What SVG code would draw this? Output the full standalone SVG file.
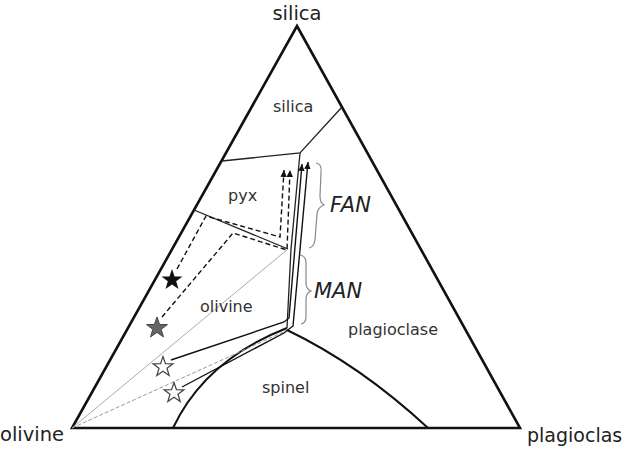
<svg xmlns="http://www.w3.org/2000/svg" width="629" height="454" viewBox="0 0 629 454">
<style>
.lbl{font-family:"DejaVu Sans","Liberation Sans",sans-serif;fill:#222}
.fld{font-family:"DejaVu Sans","Liberation Sans",sans-serif;fill:#333;font-size:16px}
.big{font-family:"DejaVu Sans","Liberation Sans",sans-serif;font-style:italic;fill:#222;font-size:21px}
.bd{fill:none;stroke:#222;stroke-width:1.3}
.pth{fill:none;stroke:#111;stroke-width:1.4}
.dsh{fill:none;stroke:#111;stroke-width:1.4;stroke-dasharray:5,3}
.br{fill:none;stroke:#888;stroke-width:1.2}
</style>
<defs>
<path id="star" d="M0,-11 L2.59,-3.56 L10.46,-3.40 L4.18,1.36 L6.47,8.90 L0,4.4 L-6.47,8.90 L-4.18,1.36 L-10.46,-3.40 L-2.59,-3.56 Z"/>
<marker id="ah" markerWidth="8" markerHeight="8" refX="7" refY="4" orient="auto" markerUnits="userSpaceOnUse">
<path d="M0,0.8 L7,4 L0,7.2 Z" fill="#111"/>
</marker>
</defs>
<rect width="629" height="454" fill="#fff"/>

<g id="triangle">
<path d="M297,26 L72,428 L520,428 Z" fill="none" stroke="#111" stroke-width="2.6" stroke-linejoin="miter"/>
<text class="lbl" x="297" y="20" font-size="19.5" text-anchor="middle">silica</text>
<text class="lbl" x="0" y="441" font-size="19.5">olivine</text>
<text class="lbl" x="527" y="442" font-size="19">plagioclas</text>
</g>

<g id="boundaries">
<path class="bd" d="M342,107 L300,153 L222,161"/>
<path class="bd" d="M194,210 L288,249"/>
<path class="bd" d="M300,153 L291,249 L287,328"/>
<path d="M173,428 Q205,360 287,328" fill="none" stroke="#111" stroke-width="2"/>
<path d="M287,330 Q360,365 428,428" fill="none" stroke="#111" stroke-width="2"/>
<path d="M72,428 L288,249" fill="none" stroke="#aaa" stroke-width="1"/>
<path d="M72,428 L288,330" fill="none" stroke="#999" stroke-width="1" stroke-dasharray="4,2"/>
</g>

<g id="fields">
<text class="fld" x="273" y="112">silica</text>
<text class="fld" x="228" y="201">pyx</text>
<text class="fld" x="200" y="312">olivine</text>
<text class="fld" x="348" y="335">plagioclase</text>
<text class="fld" x="262" y="393">spinel</text>
</g>

<g id="connectors">
<path class="dsh" d="M177,269 L206,216 L280,237 L284,170" marker-end="url(#ah)"/>
<path class="dsh" d="M162,317 L233,233 L287,250 L290,170" marker-end="url(#ah)"/>
<path class="pth" d="M171,360 L284,322 L289,318 L302,164" marker-end="url(#ah)"/>
<path class="pth" d="M182,387 L284,333 L293,326 L308,162" marker-end="url(#ah)"/>
</g>

<g id="stars">
<use href="#star" transform="translate(172,280)" fill="#111"/>
<use href="#star" transform="translate(157,328)" fill="#666" stroke="#444" stroke-width="1"/>
<use href="#star" transform="translate(163,367) scale(0.95)" fill="#fff" stroke="#444" stroke-width="1.3"/>
<use href="#star" transform="translate(174,393) scale(0.95)" fill="#fff" stroke="#444" stroke-width="1.3"/>
</g>

<g id="FAN">
<path class="br" d="M316,163 Q322,164 321,172 L320,196 Q320,203 324,205 Q318,207 317,214 L315,240 Q314,247 309,248"/>
<text class="big" x="330" y="212">FAN</text>
</g>
<g id="MAN">
<path class="br" d="M300,255 Q306,256 306,263 L306,283 Q306,289 311,291 Q306,293 306,299 L306,317 Q306,323 301,324"/>
<text class="big" x="314" y="298">MAN</text>
</g>
</svg>
